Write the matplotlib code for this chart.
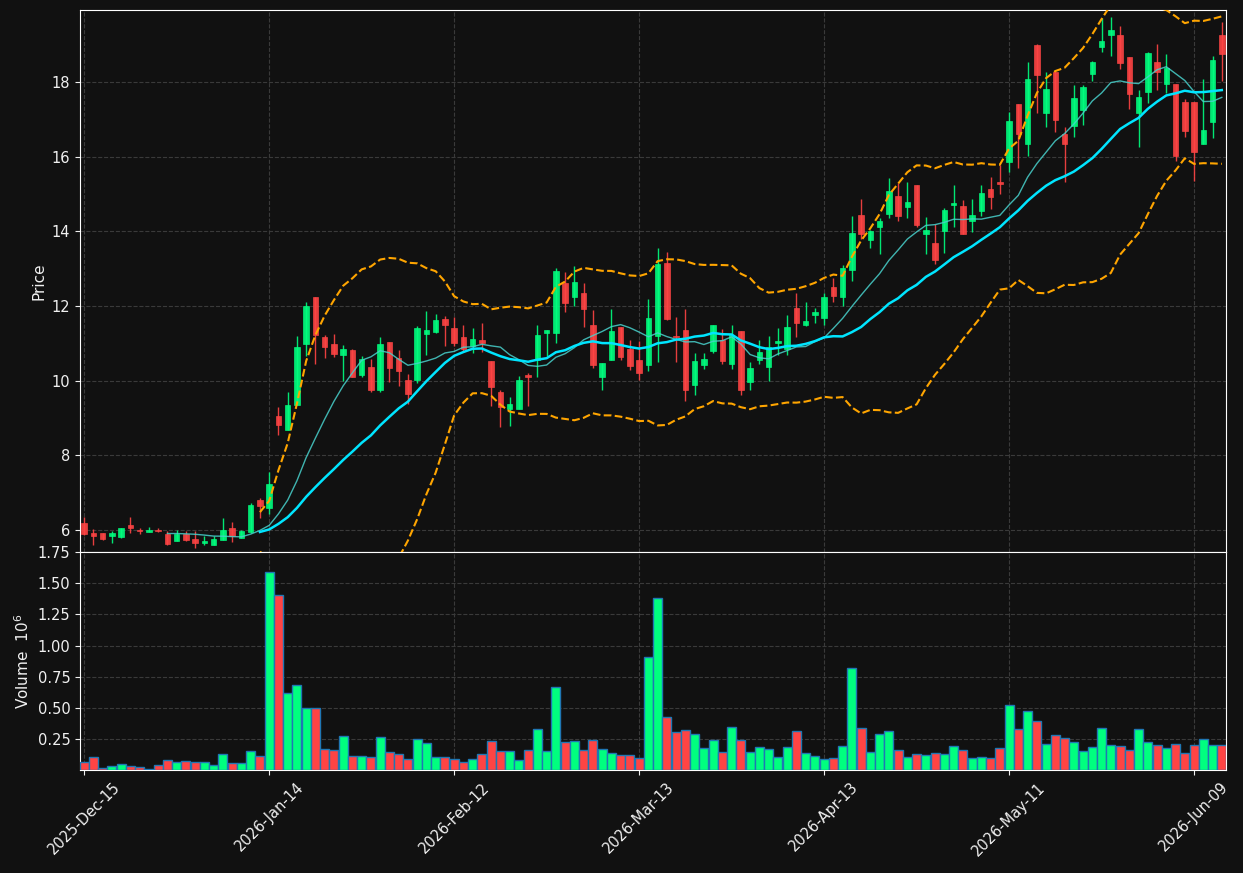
import numpy as np
import pandas as pd
import matplotlib
matplotlib.use("Agg")
import matplotlib.pyplot as plt

# daily bars
opens = [6.20, 5.93, 5.93, 5.83, 5.82, 6.14, 6.01, 5.94, 6.01, 5.90,
         5.71, 5.90, 5.77, 5.66, 5.61, 5.74, 6.04, 5.79, 5.94, 6.79,
         6.58, 9.06, 8.67, 9.34, 10.99, 12.25, 11.18, 10.98, 10.70, 10.81,
         10.16, 10.37, 9.74, 11.04, 10.62, 10.03, 10.01, 11.26, 11.31, 11.65,
         11.42, 11.16, 10.94, 11.09, 10.53, 9.69, 9.25, 9.25, 10.16, 10.56,
         11.29, 11.29, 12.63, 12.23, 12.36, 11.50, 10.09, 10.56, 11.45, 10.85,
         10.56, 10.41, 11.19, 13.16, 11.20, 11.37, 9.88, 10.41, 10.79, 11.10,
         10.46, 11.32, 9.96, 10.55, 10.36, 11.02, 10.86, 11.96, 11.48, 11.75,
         11.67, 12.52, 12.24, 12.96, 14.43, 13.77, 14.13, 14.46, 14.94, 14.65,
         15.23, 13.92, 13.68, 14.01, 14.72, 14.67, 14.28, 14.54, 15.13, 15.32,
         15.85, 17.42, 16.35, 18.99, 17.18, 18.28, 16.61, 16.81, 17.25, 18.22,
         18.94, 19.25, 19.25, 18.67, 17.18, 17.74, 18.53, 17.96, 17.95, 17.47,
         17.47, 16.35, 16.92, 19.25]
highs = [6.34, 6.03, 5.93, 5.98, 6.04, 6.36, 6.05, 6.09, 6.05, 5.96,
         6.00, 5.96, 5.96, 5.85, 5.85, 6.32, 6.21, 6.01, 6.71, 6.86,
         7.56, 9.29, 9.69, 11.19, 12.10, 12.25, 11.23, 11.24, 10.96, 10.85,
         10.66, 10.57, 11.16, 11.04, 10.81, 10.17, 11.47, 11.88, 11.78, 11.72,
         11.71, 11.49, 11.42, 11.54, 10.53, 9.76, 9.56, 10.13, 10.20, 11.49,
         11.36, 13.03, 12.91, 13.08, 12.61, 11.90, 10.47, 11.91, 11.45, 11.09,
         11.05, 12.18, 13.55, 13.46, 11.71, 11.92, 10.75, 10.75, 11.50, 11.39,
         11.48, 11.34, 10.51, 11.10, 11.19, 11.41, 11.77, 12.35, 12.11, 11.96,
         12.35, 12.75, 13.09, 14.41, 14.86, 14.05, 14.37, 15.44, 15.30, 15.32,
         15.23, 14.39, 14.21, 14.62, 15.25, 14.83, 14.86, 15.25, 15.46, 15.79,
         17.20, 17.42, 18.54, 19.01, 18.28, 18.32, 16.79, 17.91, 17.91, 18.57,
         19.72, 19.74, 19.49, 18.67, 17.79, 18.81, 19.01, 18.75, 17.95, 17.54,
         17.47, 18.08, 18.71, 19.61]
lows = [5.87, 5.59, 5.72, 5.65, 5.79, 5.92, 5.89, 5.94, 5.95, 5.59,
        5.71, 5.70, 5.51, 5.59, 5.59, 5.74, 5.67, 5.79, 5.93, 6.31,
        6.42, 8.54, 8.67, 9.34, 10.65, 10.44, 10.60, 10.63, 9.98, 10.09,
        10.10, 9.70, 9.71, 9.96, 9.86, 9.37, 9.94, 10.68, 11.27, 10.93,
        10.93, 10.80, 10.74, 10.76, 9.31, 8.76, 8.79, 9.25, 9.33, 10.10,
        10.65, 11.02, 11.85, 11.99, 11.44, 10.34, 9.76, 10.56, 10.55, 10.29,
        10.01, 10.25, 10.50, 11.62, 10.50, 9.45, 9.62, 10.32, 10.73, 10.46,
        10.30, 9.62, 9.75, 10.44, 9.99, 10.70, 10.68, 11.16, 11.46, 11.54,
        11.50, 12.10, 12.00, 12.67, 13.79, 13.56, 13.40, 14.37, 14.28, 14.37,
        14.13, 13.40, 13.12, 13.43, 14.13, 13.92, 13.98, 14.41, 14.59, 14.99,
        15.59, 15.70, 16.01, 17.18, 16.79, 16.66, 15.32, 16.54, 16.84, 18.02,
        18.81, 18.69, 18.36, 17.28, 16.26, 17.45, 17.79, 17.70, 15.88, 16.52,
        15.34, 16.35, 16.50, 18.03]
closes = [5.88, 5.83, 5.77, 5.93, 6.04, 6.04, 5.96, 6.01, 5.96, 5.63,
          5.88, 5.74, 5.66, 5.71, 5.77, 6.01, 5.85, 5.96, 6.68, 6.63,
          7.22, 8.82, 9.35, 10.90, 12.00, 11.23, 10.91, 10.72, 10.85, 10.11,
          10.58, 9.74, 10.99, 10.35, 10.25, 9.63, 11.41, 11.36, 11.63, 11.48,
          11.00, 10.86, 11.12, 11.02, 9.82, 9.29, 9.38, 10.03, 10.09, 11.23,
          11.36, 12.94, 12.07, 12.65, 11.91, 10.43, 10.47, 11.33, 10.63, 10.38,
          10.20, 11.68, 13.13, 11.65, 11.17, 9.74, 10.54, 10.57, 11.50, 10.54,
          11.23, 9.74, 10.33, 10.77, 10.89, 11.05, 11.45, 11.54, 11.61, 11.85,
          12.25, 12.28, 13.01, 13.95, 13.92, 14.00, 14.27, 15.07, 14.41, 14.78,
          14.16, 14.03, 13.22, 14.56, 14.75, 13.92, 14.43, 15.02, 14.92, 15.28,
          16.96, 16.60, 18.08, 18.19, 17.81, 16.99, 16.35, 17.57, 17.87, 18.53,
          19.09, 19.39, 18.52, 17.69, 17.59, 18.78, 18.27, 18.38, 16.03, 16.68,
          16.12, 16.72, 18.59, 18.74]
volumes = [67000, 107000, 19000, 35000, 51000, 35000, 24000, 10000, 43000, 83000,
           67000, 75000, 67000, 67000, 43000, 132000, 59000, 59000, 156000, 118000,
           1591000, 1406000, 616000, 688000, 503000, 503000, 172000, 164000, 277000, 116000,
           116000, 107000, 269000, 148000, 132000, 91000, 253000, 220000, 107000, 107000,
           91000, 67000, 91000, 132000, 237000, 156000, 156000, 83000, 164000, 333000,
           156000, 672000, 228000, 237000, 164000, 245000, 172000, 140000, 124000, 124000,
           99000, 906000, 1382000, 430000, 309000, 325000, 293000, 180000, 245000, 148000,
           349000, 245000, 148000, 188000, 172000, 107000, 188000, 317000, 140000, 116000,
           91000, 99000, 196000, 817000, 341000, 148000, 293000, 317000, 164000, 107000,
           132000, 124000, 140000, 132000, 196000, 164000, 99000, 107000, 99000, 180000,
           527000, 333000, 478000, 398000, 212000, 285000, 261000, 228000, 156000, 188000,
           341000, 204000, 196000, 164000, 333000, 228000, 204000, 180000, 212000, 140000,
           204000, 253000, 204000, 204000]

holidays = ["2025-12-25", "2026-01-01", "2026-01-19", "2026-02-16",
            "2026-04-03", "2026-05-25"]
dates = pd.bdate_range("2025-12-15", periods=len(closes), freq="C", holidays=holidays)

df = pd.DataFrame({"Open": opens, "High": highs, "Low": lows,
                   "Close": closes, "Volume": volumes}, index=dates)

# indicators
mav10 = df["Close"].rolling(10).mean()
mid = df["Close"].rolling(20).mean()
std = df["Close"].rolling(20).std(ddof=0)
upper = mid + 2 * std
lower = mid - 2 * std

bg = "#111111"
up_col = "#00ff7f"
dn_col = "#ff4444"
txt = "#f0f0f0"

fig = plt.figure(figsize=(12.43, 8.73), dpi=100, facecolor=bg)
ax = fig.add_axes([0.0644, 0.3677, 0.9219, 0.6208])
axv = fig.add_axes([0.0644, 0.118, 0.9219, 0.2497], sharex=ax)

x = np.arange(len(df))
is_up = df["Close"].values >= df["Open"].values
colors = np.where(is_up, up_col, dn_col)

for a in (ax, axv):
    a.set_facecolor(bg)
    for s in a.spines.values():
        s.set_color("white")
    a.grid(True, color="#3a3a3a", linestyle="--", linewidth=0.8)
    a.set_axisbelow(True)
    a.tick_params(colors=txt, labelsize=10.5)

# candles
ax.vlines(x, df["Low"], df["High"], colors=colors, linewidth=1, alpha=0.9, zorder=2)
body_bottom = np.minimum(df["Open"], df["Close"])
body_h = np.abs(df["Close"] - df["Open"])
body_h = np.maximum(body_h, 0.02)
ax.bar(x, body_h, bottom=body_bottom, width=0.6, color=colors,
       edgecolor=colors, linewidth=0.5, alpha=0.9, zorder=3)

ax.plot(x, mav10, color="#48d1cc", linewidth=1, alpha=0.85, zorder=4)
ax.plot(x, mid, color="#00e5ff", linewidth=1.8, zorder=4)
ax.plot(x, upper, color="orange", linestyle="--", linewidth=1.5, zorder=4)
ax.plot(x, lower, color="orange", linestyle="--", linewidth=1.5, zorder=4)

ax.set_ylim(5.41, 19.93)
ax.set_yticks([6, 8, 10, 12, 14, 16, 18])
ax.set_ylabel("Price", color=txt, fontsize=11)
ax.tick_params(axis="x", labelbottom=False)

# volume
axv.bar(x, df["Volume"] / 1e6, width=0.97, color=colors,
        edgecolor="#1f77b4", linewidth=1, zorder=3)
axv.set_ylim(0.003, 1.75)
axv.set_yticks([0.25, 0.5, 0.75, 1.0, 1.25, 1.5, 1.75])
axv.set_ylabel("Volume  $10^6$", color=txt, fontsize=11)

ticks = x[::20]
axv.set_xticks(ticks)
axv.set_xticklabels([d.strftime("%Y-%b-%d") for d in dates[::20]],
                    rotation=45, ha="center")
axv.set_xlim(-0.45, len(df) - 1 + 0.45)

fig.savefig("out.png", dpi=100, facecolor=bg)
